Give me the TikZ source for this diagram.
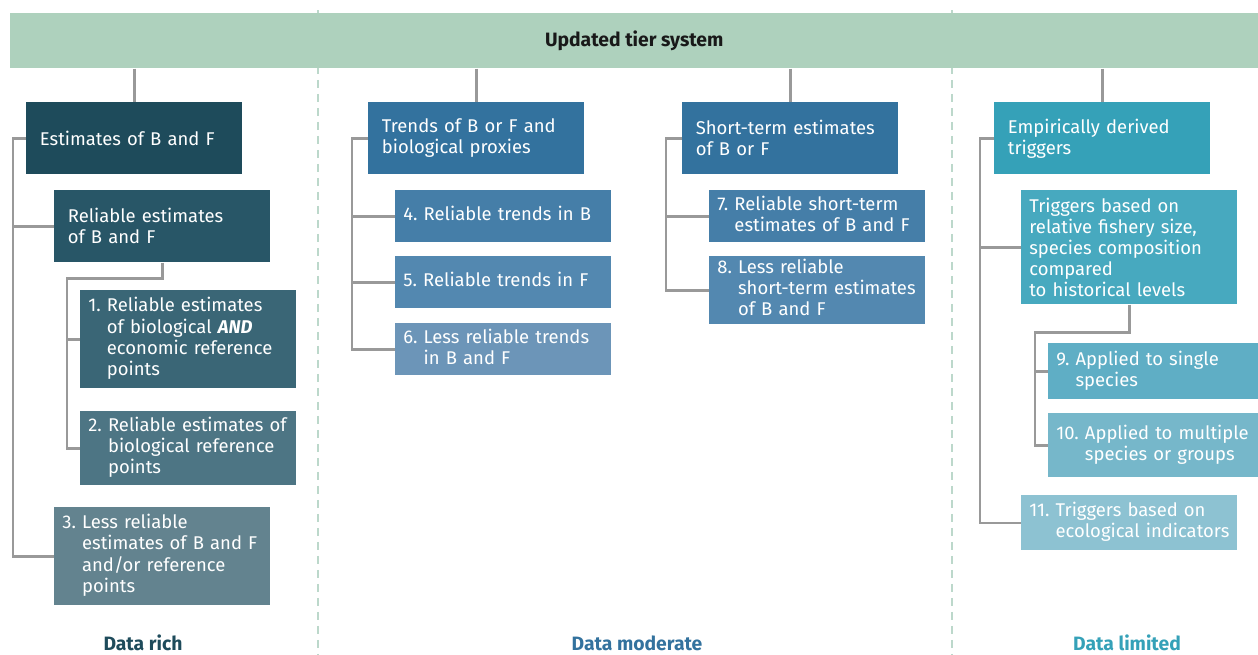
\documentclass[tikz,border=0pt]{standalone}
\usepackage{fontspec}
\setmainfont{Fira Sans}
\usetikzlibrary{positioning}

\definecolor{hdrgreen}{HTML}{AED1BD}
\definecolor{sepgreen}{HTML}{BCD8CB}
\definecolor{linegray}{HTML}{999999}
\definecolor{richA}{HTML}{1E4B5B}
\definecolor{richB}{HTML}{285667}
\definecolor{richC}{HTML}{3A6676}
\definecolor{richD}{HTML}{4D7584}
\definecolor{richE}{HTML}{63838F}
\definecolor{modA}{HTML}{33729E}
\definecolor{modB}{HTML}{457EA8}
\definecolor{modC}{HTML}{5388B0}
\definecolor{modD}{HTML}{6C95B8}
\definecolor{limA}{HTML}{35A1B8}
\definecolor{limB}{HTML}{47A9BF}
\definecolor{limC}{HTML}{5FAEC5}
\definecolor{limD}{HTML}{76B7CA}
\definecolor{limE}{HTML}{8DC2D2}

\newcommand\boxfont{\fontsize{10.5}{12}\selectfont}
\newcommand\numline[2]{\begin{tabular}[t]{@{}l@{~}l@{}}#1&\begin{tabular}[t]{@{}l@{}}#2\end{tabular}\end{tabular}}

\tikzset{
	link/.style={draw=linegray, line width=1.4pt},
	colsep/.style={draw=sepgreen, line width=0.8pt, dash pattern=on 0.16cm off 0.12cm},
	tierbox/.style={rectangle, anchor=north west, text=white, align=left, inner ysep=0pt, font=\boxfont},
	headbox/.style={tierbox, inner xsep=0.27cm, text width=3.78cm, minimum height=1.44cm},
	itembox/.style={tierbox, inner xsep=0.16cm, text width=4.0cm},
	collabel/.style={font=\fontsize{11}{13}\selectfont\bfseries},
}

\begin{document}
\begin{tikzpicture}[x=0.02cm, y=-0.02cm]
	\useasboundingbox (0,0) rectangle (1258,654);
	%Draw column separators
	\draw[colsep] (318,10) -- (318,654);
	\draw[colsep] (952,10) -- (952,654);
	%Draw header
	\node[fill=hdrgreen, anchor=north west, minimum width=24.96cm, minimum height=1.1cm, inner sep=0pt, font=\fontsize{11}{13}\selectfont\bfseries, text=black!90] (tier) at (10,13) {Updated tier system};

	%Data rich
	\node[headbox, fill=richA] (est) at (26,102) {Estimates of B and F};
	\node[headbox, fill=richB] (relB) at (54,190) {Reliable estimates\\of B and F};
	\node[itembox, fill=richC, minimum height=1.96cm] (t1) at (80,290) {\numline{1.}{Reliable estimates\\of biological \textbf{\textit{AND}}\\economic reference\\points}};
	\node[itembox, fill=richD, minimum height=1.48cm] (t2) at (80,411) {\numline{2.}{Reliable estimates of\\biological reference\\points}};
	\node[itembox, fill=richE, minimum height=1.96cm] (t3) at (54,507) {\numline{3.}{Less reliable\\estimates of B and F\\and/or reference\\points}};
	\node[collabel, text=richA] (rich) at (143,643) {Data rich};

	%Data moderate
	\node[headbox, fill=modA] (trend) at (368,102) {Trends of B or F and\\biological proxies};
	\node[itembox, fill=modB, minimum height=1.04cm] (t4) at (395,190) {\numline{4.}{Reliable trends in B}};
	\node[itembox, fill=modC, minimum height=1.04cm] (t5) at (395,256) {\numline{5.}{Reliable trends in F}};
	\node[itembox, fill=modD, minimum height=1.04cm] (t6) at (395,323) {\numline{6.}{Less reliable trends\\in B and F}};
	\node[headbox, fill=modA] (short) at (682,102) {Short-term estimates\\of B or F};
	\node[itembox, fill=modB, minimum height=1.04cm] (t7) at (709,190) {\numline{7.}{Reliable short-term\\estimates of B and F}};
	\node[itembox, fill=modC, minimum height=1.36cm] (t8) at (709,256) {\numline{8.}{Less reliable\\short-term estimates\\of B and F}};
	\node[collabel, text=modA] (moderate) at (637,643) {Data moderate};

	%Data limited
	\node[headbox, fill=limA] (emp) at (994,102) {Empirically derived\\triggers};
	\node[itembox, fill=limB, minimum height=2.28cm] (trig) at (1021,190) {Triggers based on\\relative fishery size,\\species composition\\compared\\to historical levels};
	\node[itembox, fill=limC, text width=3.88cm, minimum height=1.12cm] (t9) at (1048,343) {\numline{9.}{Applied to single\\species}};
	\node[itembox, fill=limD, text width=3.88cm, minimum height=1.28cm] (t10) at (1048,413) {\numline{10.}{Applied to multiple\\species or groups}};
	\node[itembox, fill=limE, minimum height=1.1cm] (t11) at (1021,495) {\numline{11.}{Triggers based on\\ecological indicators}};
	\node[collabel, text=limA] (limited) at (1127,643) {Data limited};

	%Draw links from header
	\draw[link] (tier.south -| est.north) -- (est.north);
	\draw[link] (tier.south -| trend.north) -- (trend.north);
	\draw[link] (tier.south -| short.north) -- (short.north);
	\draw[link] (tier.south -| emp.north) -- (emp.north);

	%Draw tree links
	\draw[link] (est.west) -- ++(-13,0) coordinate (richspine) |- (t3.west);
	\draw[link] (richspine) |- (relB.west);
	\draw[link] (relB.south) -- ++(0,16) -| ([xshift=-0.26cm]t2.west) -- (t2.west);
	\draw[link] (t1.west) -- ++(-13,0);

	\draw[link] (trend.west) -- ++(-16,0) coordinate (trendspine) |- (t6.west);
	\draw[link] (trendspine) |- (t4.west);
	\draw[link] (trendspine) |- (t5.west);

	\draw[link] (short.west) -- ++(-16,0) coordinate (shortspine) |- (t8.west);
	\draw[link] (shortspine) |- (t7.west);

	\draw[link] (emp.west) -- ++(-14,0) coordinate (limspine) |- (t11.west);
	\draw[link] (limspine) |- (trig.west);
	\draw[link] (trig.south) -- ++(0,28) -| ([xshift=-0.26cm]t10.west) -- (t10.west);
	\draw[link] (t9.west) -- ++(-13,0);
\end{tikzpicture}
\end{document}
